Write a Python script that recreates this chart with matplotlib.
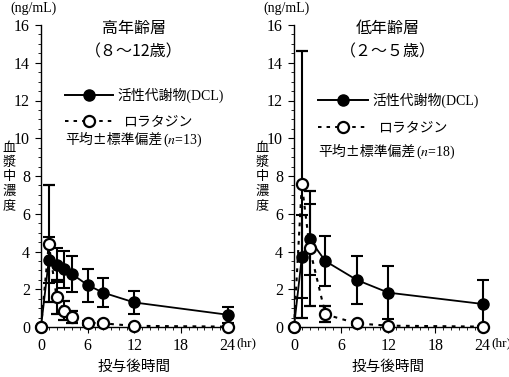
import matplotlib
matplotlib.use("Agg")
import matplotlib.pyplot as plt
from matplotlib.ticker import MultipleLocator
from matplotlib.lines import Line2D

plt.rcParams['font.family'] = ['Liberation Serif', 'Noto Sans CJK JP']
plt.rcParams['mathtext.fontset'] = 'stix'

# ---- data ----
old_t = [0, 1, 2, 3, 4, 6, 8, 12, 24]
old_dcl = [0, 3.55, 3.3, 3.05, 2.8, 2.22, 1.82, 1.3, 0.65]
old_dcl_sd = [0, 1.2, 0.9, 1.0, 0.95, 0.87, 0.75, 0.6, 0.42]
old_lor = [0, 4.4, 1.6, 0.87, 0.55, 0.23, 0.19, 0.06, 0.02]
old_lor_sd = [0, 3.1, 0.9, 0.5, 0.32, 0.1, 0.08, 0.04, 0.02]

young_t = [0, 1, 2, 4, 8, 12, 24]
young_dcl = [0, 3.72, 4.64, 3.49, 2.49, 1.82, 1.22]
young_dcl_sd = [0, 2.2, 1.87, 1.32, 1.27, 1.4, 1.27]
young_lor = [0, 7.57, 4.16, 0.67, 0.19, 0.07, 0.02]
young_lor_sd = [0, 7.07, 3.07, 0.42, 0.08, 0.04, 0.02]

titles = ['高年齢層', '低年齢層']
subtitles = ['（８～12歳）', '（２～５歳）']
ns = [13, 18]
xticks = [0, 6, 12, 18, 24]
yticks = [0, 2, 4, 6, 8, 10, 12, 14, 16]

JP = ['Noto Sans CJK JP', 'Liberation Serif']
SER = ['Liberation Serif', 'Noto Sans CJK JP']
DOT = (0, (1.8, 2.6))

fig = plt.figure(figsize=(5.10, 3.77), dpi=100)
W, H = 510, 377
renderer = fig.canvas.get_renderer()

panels = [
    (41, 230, old_t, old_dcl, old_dcl_sd, old_lor, old_lor_sd),
    (294, 485, young_t, young_dcl, young_dcl_sd, young_lor, young_lor_sd),
]

for i, (xl, xr, t, dcl, dsd, lor, lsd) in enumerate(panels):
    ax = fig.add_axes([xl / W, 50 / H, (xr - xl) / W, (327 - 25) / H])
    ax.set_xlim(0, 24.3)
    ax.set_ylim(0, 16)
    for s in ['top', 'right']:
        ax.spines[s].set_visible(False)
    for s in ['left', 'bottom']:
        ax.spines[s].set_linewidth(1.0)
    ax.xaxis.set_major_locator(MultipleLocator(6))
    ax.xaxis.set_minor_locator(MultipleLocator(1))
    ax.yaxis.set_major_locator(MultipleLocator(2))
    ax.yaxis.set_minor_locator(MultipleLocator(0.5))
    ax.tick_params(which='major', direction='out', length=4, width=0.8,
                   labelsize=11.5)
    ax.tick_params(which='minor', direction='out', length=2.5, width=0.6)
    ax.tick_params(axis='x', pad=4)
    ax.tick_params(axis='y', pad=4)
    ax.set_xticks(xticks)
    ax.set_yticks(yticks)
    for lab in ax.get_xticklabels() + ax.get_yticklabels():
        lab.set_family(SER)

    # DCL
    ax.errorbar(t, dcl, yerr=dsd, color='black', lw=1.3, elinewidth=1.5,
                capsize=4, capthick=1.5, marker='o', markersize=8,
                markerfacecolor='black', markeredgecolor='black',
                zorder=3, clip_on=False)
    # loratadine
    ax.errorbar(t, lor, yerr=lsd, color='black', lw=1.5,
                linestyle=DOT, elinewidth=1.5,
                capsize=4, capthick=1.5, marker='o', markersize=8,
                markerfacecolor='white', markeredgecolor='black',
                markeredgewidth=1.6, zorder=4, clip_on=False)

    cx = (xl + xr - 3) / 2
    fig.text((xl - 31) / W, 1 - 8 / H, '(ng/mL)', family=SER, fontsize=10,
             ha='left', va='center')
    fig.text(cx / W, 1 - 28 / H, titles[i], family=JP, fontsize=11.5,
             ha='center', va='center')
    fig.text(cx / W, 1 - 52 / H, subtitles[i], family=JP, fontsize=11.5,
             ha='center', va='center')
    # y label stacked vertically
    ylab = '血漿中濃度'
    for k, ch in enumerate(ylab):
        fig.text((xl - 32) / W, 1 - (148 + k * 14.5) / H, ch, family=JP,
                 fontsize=9.5, ha='center', va='center')
    fig.text((xr + 6) / W, 1 - 343 / H, '(hr)', family=SER, fontsize=9.5,
             ha='left', va='center')
    fig.text(cx / W, 1 - 367 / H, '投与後時間', family=JP, fontsize=10.5,
             ha='center', va='center')

    # legend (drawn manually like the original)
    ly1 = [95, 100][i]
    ly2 = [121, 127][i]
    ly3 = [140, 152][i]
    lx0 = [65, 318][i]
    lx1 = [113, 368][i]
    fig.add_artist(Line2D([lx0 / W, lx1 / W], [1 - ly1 / H, 1 - ly1 / H],
                          color='black', lw=1.4))
    fig.add_artist(Line2D([(lx0 + lx1) / 2 / W], [1 - ly1 / H], marker='o',
                          markersize=8, color='black'))
    fig.add_artist(Line2D([lx0 / W, lx1 / W], [1 - ly2 / H, 1 - ly2 / H],
                          color='black', lw=1.4, linestyle=DOT))
    fig.add_artist(Line2D([(lx0 + lx1) / 2 / W], [1 - ly2 / H], marker='o',
                          markersize=8, markerfacecolor='white',
                          markeredgecolor='black', markeredgewidth=1.6))
    fig.text((lx1 + 4) / W, 1 - ly1 / H, '活性代謝物(DCL)', family=SER,
             fontsize=10, ha='left', va='center')
    fig.text((lx1 + 10) / W, 1 - ly2 / H, 'ロラタジン', family=JP,
             fontsize=10, ha='left', va='center')
    t1 = fig.text(lx0 / W, 1 - ly3 / H, '平均±標準偏差', family=JP,
                  fontsize=10, ha='left', va='center')
    bb = t1.get_window_extent(renderer=renderer)
    fig.text((bb.x1 + 1) / W, 1 - ly3 / H, r'($\mathit{n}$=' + f'{ns[i]})',
             family=SER, fontsize=10, ha='left', va='center')

fig.savefig('out.png', dpi=100)
